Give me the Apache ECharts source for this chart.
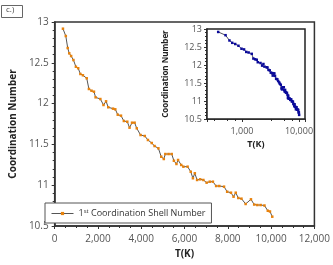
<!DOCTYPE html>
<html><head><meta charset="utf-8">
<script src="https://cdn.jsdelivr.net/npm/echarts@6/dist/echarts.min.js"></script>
<style>html,body{margin:0;padding:0;background:#fff}#c{width:333px;height:265px}</style>
</head><body><div id="c"></div>
<script>
const temps = [382,514,602,673,760,866,980,1086,1187,1305,1481,1582,1701,1815,1890,2110,2255,2374,2475,2695,2800,2914,3064,3196,3354,3459,3574,3692,3793,3969,4163,4308,4484,4615,4791,4923,5042,5112,5262,5407,5508,5626,5701,5846,5947,6141,6286,6387,6475,6580,6725,6870,7020,7165,7310,7459,7604,7824,7969,8145,8264,8365,8484,8629,8822,9068,9218,9363,9516,9692,9846,9947,10053];
const cn = [12.918,12.828,12.681,12.616,12.583,12.534,12.452,12.433,12.363,12.347,12.310,12.179,12.158,12.146,12.077,12.056,11.983,12.028,11.955,11.938,11.930,11.864,11.852,11.787,11.778,11.705,11.766,11.766,11.697,11.615,11.603,11.554,11.517,11.480,11.452,11.349,11.321,11.382,11.382,11.382,11.300,11.260,11.309,11.248,11.227,11.227,11.165,11.085,11.146,11.064,11.072,11.064,11.031,11.043,11.043,10.990,10.990,10.982,10.920,10.908,10.859,10.908,10.843,10.835,10.770,10.827,10.763,10.757,10.757,10.751,10.687,10.678,10.614];
const xTicksMain = [0,2000,4000,6000,8000,10000,12000];
const yTicks = [10.5,11,11.5,12,12.5,13];
const seriesName = '1st Coordination Shell Number';

const pts = temps.map((t,i)=>[t,cn[i]]);
const F = 'Open Sans';
const fmt = v => Number(v).toLocaleString('en-US');
const chart = echarts.init(document.getElementById('c'));
chart.setOption({
  animation:false,
  textStyle:{fontFamily:F},
  grid:[
    {left:42,right:18,top:22,bottom:39,show:true,borderColor:'#333',borderWidth:1.5,containLabel:false},
    {left:207,right:28,top:29,bottom:146,show:true,borderColor:'#222',borderWidth:1.5,backgroundColor:'#fff',z:5}
  ],
  xAxis:[
    {gridIndex:0,type:'value',min:xTicksMain[0],max:xTicksMain[xTicksMain.length-1],interval:2000,
     axisLine:{lineStyle:{color:'#333',width:1.5}},
     axisTick:{show:true,length:3,lineStyle:{color:'#333'}},
     minorTick:{show:true,splitNumber:4,length:2,lineStyle:{color:'#333'}},
     splitLine:{show:false},
     axisLabel:{color:'#555',fontSize:10,margin:8,formatter:fmt},
     name:'T(K)',nameLocation:'middle',nameGap:22,nameTextStyle:{fontWeight:'bold',fontSize:10,color:'#222'}},
    {gridIndex:1,type:'log',logBase:10,min:243,max:12740,
     axisLine:{lineStyle:{color:'#222',width:1.5}},
     axisTick:{show:true,length:3,lineStyle:{color:'#333'}},
     minorTick:{show:true,splitNumber:4,length:2,lineStyle:{color:'#333'}},
     splitLine:{show:false},
     axisLabel:{color:'#555',fontSize:9,margin:8,formatter:fmt,showMinLabel:false,showMaxLabel:false},
     name:'T(K)',nameLocation:'middle',nameGap:21,nameTextStyle:{fontWeight:'bold',fontSize:9,color:'#222'}}
  ],
  yAxis:[
    {gridIndex:0,type:'value',min:yTicks[0],max:yTicks[yTicks.length-1],interval:0.5,
     axisLine:{show:true,lineStyle:{color:'#333',width:1.5}},
     axisTick:{show:true,length:3,lineStyle:{color:'#333'}},
     minorTick:{show:true,splitNumber:5,length:2,lineStyle:{color:'#333'}},
     splitLine:{show:false},
     axisLabel:{color:'#555',fontSize:10,margin:6},
     name:'Coordination Number',nameLocation:'middle',nameGap:27,nameTextStyle:{fontWeight:'bold',fontSize:10,color:'#222'}},
    {gridIndex:1,type:'value',min:yTicks[0],max:yTicks[yTicks.length-1],interval:0.5,
     axisLine:{show:true,lineStyle:{color:'#222',width:1.5}},
     axisTick:{show:true,length:3,lineStyle:{color:'#333'}},
     minorTick:{show:true,splitNumber:5,length:2,lineStyle:{color:'#333'}},
     splitLine:{show:false},
     axisLabel:{color:'#555',fontSize:9,margin:5},
     name:'Coordination Number',nameLocation:'middle',nameGap:37,nameTextStyle:{fontWeight:'bold',fontSize:8,color:'#222'}}
  ],
  legend:{
    data:[seriesName],left:45,top:203,width:167,
    backgroundColor:'#fff',borderColor:'#555',borderWidth:1,padding:[5,6,5,6],
    itemWidth:22,itemHeight:4,
    lineStyle:{color:'#555',width:1},
    itemStyle:{color:'#e8820c'},
    formatter:()=>'1{sup|st} Coordination Shell Number',
    textStyle:{fontSize:9,color:'#333',fontFamily:F,rich:{sup:{fontSize:6,verticalAlign:'top',padding:[0,0,5,0],color:'#333'}}}
  },
  graphic:[
    {type:'rect',left:1,top:5,shape:{width:21,height:12},style:{fill:'#fff',stroke:'#666',lineWidth:1}},
    {type:'text',left:6,top:6,style:{text:'c.)',fontSize:8,fill:'#444',fontFamily:F}}
  ],
  series:[
    {name:seriesName,type:'line',xAxisIndex:0,yAxisIndex:0,data:pts,
     symbol:'rect',symbolSize:2.5,showSymbol:true,
     lineStyle:{color:'#555',width:1},itemStyle:{color:'#e8820c'}},
    {name:'inset',type:'line',xAxisIndex:1,yAxisIndex:1,data:pts,z:6,
     symbol:'rect',symbolSize:2.5,showSymbol:true,
     lineStyle:{color:'#223',width:0.8},itemStyle:{color:'#0a0a9a'}}
  ]
});
</script></body></html>
